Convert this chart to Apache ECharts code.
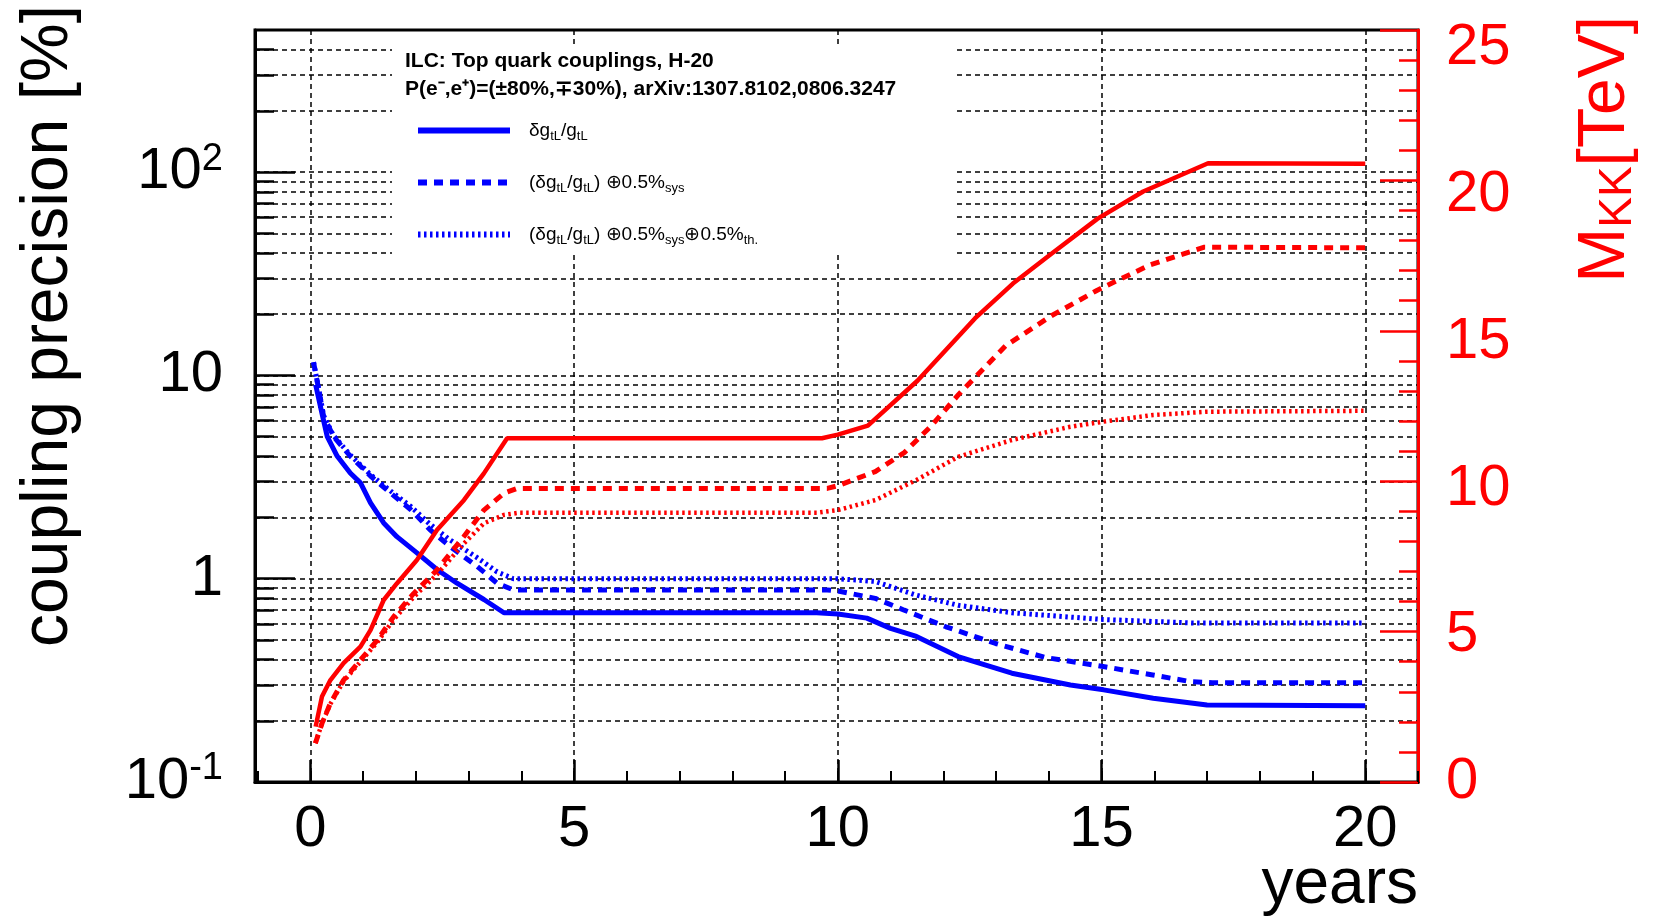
<!DOCTYPE html>
<html>
<head>
<meta charset="utf-8">
<script src="https://cdn.jsdelivr.net/npm/echarts@6/dist/echarts.min.js"></script>
<style>
html,body{margin:0;padding:0;background:#fff;}
#chart{width:1659px;height:917px;}
</style>
</head>
<body>
<div id="chart"></div>
<script>
// ---------------- data ----------------
// years
const blueSolidX = [0.1, 0.22, 0.32, 0.51, 0.76, 0.95, 1.14, 1.39, 1.64, 2.02, 2.40, 2.78, 3.29, 3.67, 9.6, 10.0, 10.55, 11.0, 11.49, 12.28, 13.3, 14.41, 15.04, 15.98, 17.0, 20.0];
const blueSolidY = [9.0, 6.5, 5.0, 4.0, 3.3, 2.96, 2.36, 1.88, 1.61, 1.34, 1.11, 0.95, 0.79, 0.68, 0.68, 0.67, 0.64, 0.57, 0.52, 0.414, 0.343, 0.30, 0.284, 0.258, 0.239, 0.237];

const blueDashX = [0.06, 0.16, 0.25, 0.44, 0.76, 1.14, 1.52, 1.90, 2.27, 2.65, 3.16, 3.54, 3.85, 9.8, 10.0, 10.71, 11.26, 12.05, 12.99, 13.93, 15.03, 15.97, 16.68, 17.1, 20.0];
const blueDashY = [11.6, 8.5, 6.3, 5.0, 4.0, 3.2, 2.64, 2.19, 1.74, 1.44, 1.15, 0.95, 0.88, 0.88, 0.87, 0.80, 0.70, 0.58, 0.48, 0.41, 0.37, 0.336, 0.312, 0.308, 0.308];

const blueDotX = [0.06, 0.16, 0.25, 0.44, 0.76, 1.14, 1.52, 1.90, 2.27, 2.65, 3.16, 3.54, 3.85, 10.0, 10.7, 11.49, 12.28, 13.3, 15.03, 16.76, 20.0];
const blueDotY = [11.6, 8.55, 6.35, 5.05, 4.05, 3.25, 2.7, 2.27, 1.85, 1.55, 1.27, 1.08, 1.0, 1.0, 0.97, 0.83, 0.74, 0.68, 0.63, 0.605, 0.605];

const redSolidX = [0.1, 0.22, 0.38, 0.63, 0.95, 1.14, 1.39, 1.64, 2.02, 2.40, 2.91, 3.29, 3.73, 9.7, 10.0, 10.57, 11.51, 12.6, 13.32, 14.05, 14.92, 15.79, 17.02, 20.0];
const redSolidY = [1.84, 2.84, 3.39, 3.95, 4.50, 5.05, 6.05, 6.60, 7.38, 8.38, 9.37, 10.26, 11.43, 11.43, 11.55, 11.85, 13.34, 15.41, 16.57, 17.56, 18.72, 19.63, 20.57, 20.55];

const redDashX = [0.095, 0.22, 0.38, 0.63, 0.95, 1.27, 1.58, 1.96, 2.40, 2.91, 3.29, 3.67, 3.92, 9.8, 10.0, 10.71, 11.26, 11.75, 12.3, 13.18, 14.05, 14.92, 15.93, 16.95, 20.0];
const redDashY = [1.29, 1.95, 2.62, 3.39, 4.06, 4.72, 5.50, 6.27, 7.05, 8.16, 9.04, 9.60, 9.76, 9.76, 9.85, 10.32, 10.95, 11.8, 12.9, 14.5, 15.5, 16.35, 17.2, 17.78, 17.76];

const redDotX = [0.095, 0.22, 0.38, 0.63, 0.95, 1.27, 1.58, 1.96, 2.40, 2.91, 3.29, 3.67, 3.95, 9.6, 10.0, 10.71, 11.49, 12.28, 13.3, 14.41, 15.04, 15.98, 17.0, 20.0];
const redDotY = [1.29, 1.95, 2.6, 3.35, 4.0, 4.65, 5.4, 6.15, 6.9, 7.93, 8.6, 8.88, 8.95, 8.95, 9.04, 9.37, 10.04, 10.81, 11.37, 11.81, 11.98, 12.20, 12.31, 12.34];

// tick values
const xMajorTicks = [0, 5, 10, 15, 20];
const xMinorTicks = [-1, 0, 1, 2, 3, 4, 5, 6, 7, 8, 9, 10, 11, 12, 13, 14, 15, 16, 17, 18, 19, 20, 21];
const yMajorTicks = [0.1, 1, 10, 100];
const yGridTicks = [0.2, 0.3, 0.4, 0.5, 0.6, 0.7, 0.8, 0.9, 1, 2, 3, 4, 5, 6, 7, 8, 9, 10, 20, 30, 40, 50, 60, 70, 80, 90, 100, 200, 300, 400];
const rightTicks = [0, 5, 10, 15, 20, 25];

// texts
const seriesNames = ['δg_tL/g_tL', '(δg_tL/g_tL) ⊕ 0.5%_sys', '(δg_tL/g_tL) ⊕ 0.5%_sys ⊕ 0.5%_th.'];
const legendRich = {
  'δg_tL/g_tL': 'δg{s|tL}/g{s|tL}',
  '(δg_tL/g_tL) ⊕ 0.5%_sys': '(δg{s|tL}/g{s|tL}) ⊕0.5%{s|sys}',
  '(δg_tL/g_tL) ⊕ 0.5%_sys ⊕ 0.5%_th.': '(δg{s|tL}/g{s|tL}) ⊕0.5%{s|sys}⊕0.5%{s|th.}'
};
const headerLine1 = 'ILC: Top quark couplings, H-20';
const headerLine2 = 'P(e⁻,e⁺)=(±80%,∓30%), arXiv:1307.8102,0806.3247';
const yTitle = 'coupling precision [%]';
const xTitle = 'years';

// ---------------- chart ----------------
const FONT = "'Liberation Sans', Arial, Helvetica, sans-serif";
const BLUE = '#0000ff';
const RED = '#ff0000';
function pairs(xs, ys) { return xs.map((x, i) => [x, ys[i]]); }
function yLabel(v) {
  const e = Math.round(Math.log10(v));
  if (e === 2) return '{b|10}{p|2}';
  if (e === 1) return '{b|10}';
  if (e === 0) return '{b|1}';
  if (e === -1) return '{b|10}{p|-1}';
  return '';
}
// right-axis labels sit slightly lower than their ticks towards the top (as in the reference)
const rightRich = {};
rightTicks.forEach(v => {
  rightRich['r' + v] = { fontSize: 58, color: RED, fontFamily: FONT, padding: [Math.round(v * 1.45), 0, 0, 0] };
});
const gridLine = { color: '#000', width: 1.5, type: [5, 4] };

const chart = echarts.init(document.getElementById('chart'), null, { renderer: 'canvas' });
const option = {
  animation: false,
  backgroundColor: '#ffffff',
  textStyle: { fontFamily: FONT },
  grid: { left: 255, top: 30, width: 1163, height: 752, show: true, borderColor: '#000', borderWidth: 3, backgroundColor: 'transparent' },
  xAxis: [
    {
      type: 'value', min: -1.05, max: 21, position: 'bottom',
      axisLine: { show: true, onZero: false, lineStyle: { color: '#000', width: 3 } },
      axisTick: { show: true, inside: true, length: 22, customValues: xMajorTicks, lineStyle: { color: '#000', width: 2.5 } },
      axisLabel: { show: true, customValues: xMajorTicks, fontSize: 58, color: '#000', fontFamily: FONT, margin: 19,
        formatter: v => (Math.abs(v % 5) < 1e-9 ? String(v) : '') },
      splitLine: { show: true, lineStyle: gridLine }
    },
    {
      type: 'value', min: -1.05, max: 21, position: 'bottom',
      axisLine: { show: false, onZero: false },
      axisTick: { show: true, inside: true, length: 11, customValues: xMinorTicks, lineStyle: { color: '#000', width: 2 } },
      axisLabel: { show: false },
      splitLine: { show: false }
    }
  ],
  yAxis: [
    {
      type: 'log', logBase: 10, min: 0.1, max: 500, position: 'left',
      axisLine: { show: true, onZero: false, lineStyle: { color: '#000', width: 3 } },
      axisTick: { show: true, inside: true, length: 40, customValues: yMajorTicks, lineStyle: { color: '#000', width: 2.5 } },
      axisLabel: { show: true, customValues: yMajorTicks, margin: 32, formatter: yLabel,
        rich: {
          b: { fontSize: 58, color: '#000', fontFamily: FONT },
          p: { fontSize: 38, color: '#000', fontFamily: FONT, padding: [0, 0, 26, 0] }
        } },
      splitLine: { show: false }
    },
    {
      type: 'log', logBase: 10, min: 0.1, max: 500, position: 'left',
      axisLine: { show: false, onZero: false },
      axisTick: { show: true, inside: true, length: 19, customValues: yGridTicks, lineStyle: { color: '#000', width: 2.5 } },
      axisLabel: { show: false },
      splitLine: { show: true, lineStyle: gridLine }
    },
    {
      type: 'value', min: 0, max: 25, interval: 5, position: 'right',
      axisLine: { show: true, onZero: false, lineStyle: { color: RED, width: 3 } },
      axisTick: { show: true, inside: true, length: 38, lineStyle: { color: RED, width: 2.5 } },
      minorTick: { show: true, splitNumber: 5, length: 19, lineStyle: { color: RED, width: 2.5 } },
      axisLabel: { show: true, color: RED, fontSize: 58, fontFamily: FONT, margin: 28,
        formatter: v => '{r' + v + '|' + v + '}', rich: rightRich },
      splitLine: { show: false }
    }
  ],
  legend: {
    data: seriesNames,
    orient: 'vertical', left: 410, top: 116,
    itemWidth: 92, itemHeight: 20, itemGap: 30,
    selectedMode: false,
    itemStyle: { opacity: 0, borderWidth: 0 },
    lineStyle: { width: 6 },
    formatter: name => legendRich[name],
    textStyle: { fontSize: 19, color: '#000', fontFamily: FONT, padding: [0, 0, 0, 14],
      rich: { s: { fontSize: 13, fontFamily: FONT, color: '#000', padding: [12, 0, 0, 0] } } }
  },
  series: [
    { name: seriesNames[0], type: 'line', xAxisIndex: 0, yAxisIndex: 0, symbol: 'none', z: 3,
      data: pairs(blueSolidX, blueSolidY), color: BLUE, lineStyle: { color: BLUE, width: 5, type: 'solid' } },
    { name: seriesNames[1], type: 'line', xAxisIndex: 0, yAxisIndex: 0, symbol: 'none', z: 3,
      data: pairs(blueDashX, blueDashY), color: BLUE, lineStyle: { color: BLUE, width: 5, type: [9, 7] } },
    { name: seriesNames[2], type: 'line', xAxisIndex: 0, yAxisIndex: 0, symbol: 'none', z: 3,
      data: pairs(blueDotX, blueDotY), color: BLUE, lineStyle: { color: BLUE, width: 5, type: [2.5, 3.5] } },
    { name: 'M_KK', type: 'line', xAxisIndex: 0, yAxisIndex: 2, symbol: 'none', z: 3,
      data: pairs(redSolidX, redSolidY), color: RED, lineStyle: { color: RED, width: 4.5, type: 'solid' } },
    { name: 'M_KK sys', type: 'line', xAxisIndex: 0, yAxisIndex: 2, symbol: 'none', z: 3,
      data: pairs(redDashX, redDashY), color: RED, lineStyle: { color: RED, width: 5, type: [9, 7] } },
    { name: 'M_KK sys th', type: 'line', xAxisIndex: 0, yAxisIndex: 2, symbol: 'none', z: 3,
      data: pairs(redDotX, redDotY), color: RED, lineStyle: { color: RED, width: 4.5, type: [2.5, 3.5] } }
  ],
  graphic: [
    { type: 'rect', shape: { x: 392, y: 47, width: 563, height: 208 }, style: { fill: '#ffffff' }, z: 1, silent: true },
    { type: 'text', x: 405, y: 61, z: 5, silent: true,
      style: { text: headerLine1, fontSize: 21, fontWeight: 'bold', fontFamily: FONT, fill: '#000', verticalAlign: 'middle' } },
    { type: 'text', x: 405, y: 89, z: 5, silent: true,
      style: { text: headerLine2, fontSize: 21, fontWeight: 'bold', fontFamily: FONT, fill: '#000', verticalAlign: 'middle' } },
    { type: 'text', x: 49, y: 5, rotation: Math.PI / 2, z: 5, silent: true,
      style: { text: yTitle, fontSize: 66, fontFamily: FONT, fill: '#000', align: 'right', verticalAlign: 'middle' } },
    { type: 'text', x: 1418, y: 885, z: 5, silent: true,
      style: { text: xTitle, fontSize: 64, fontFamily: FONT, fill: '#000', align: 'right', verticalAlign: 'middle' } },
    { type: 'text', x: 1606, y: 16, rotation: Math.PI / 2, z: 5, silent: true,
      style: { text: '{a|M}{k|KK}{a|[TeV]}', align: 'right', verticalAlign: 'middle', fill: RED,
        rich: {
          a: { fontSize: 66, fontFamily: FONT, fill: RED },
          k: { fontSize: 46, fontFamily: FONT, fill: RED, padding: [24, 0, 0, 0] }
        } } }
  ]
};
chart.setOption(option);
</script>
</body>
</html>
